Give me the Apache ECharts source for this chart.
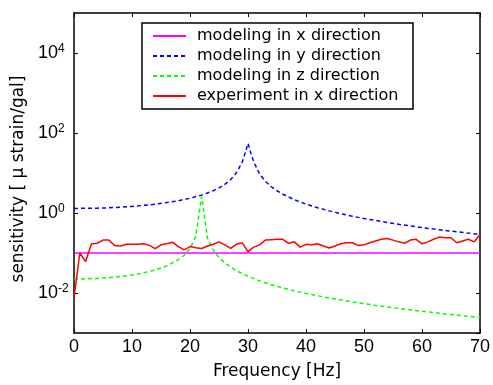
<!DOCTYPE html>
<html>
<head>
<meta charset="utf-8">
<script src="https://cdn.jsdelivr.net/npm/echarts@6/dist/echarts.min.js"></script>
<style>
  html, body { margin: 0; padding: 0; background: #fff; }
  #chart { width: 493px; height: 385px; }
</style>
</head>
<body>
<div id="chart"></div>
<script>
const FONT = "DejaVu Sans";
const TICK_FONT = "Liberation Sans";

// modeling in x direction (flat)
const xModelFreq = [0, 14, 70];
const xModelSens = [0.1, 0.1, 0.1];

// modeling in y direction
const yModelFreq = [0, 2, 4, 6, 8, 10, 12, 14, 16, 18, 20, 22, 24, 25, 26, 27, 28, 29, 29.5, 30, 30.5, 31, 32, 33, 34, 35, 36, 38, 40, 42, 44, 46, 48, 50, 52, 54, 56, 58, 60, 62, 64, 66, 68, 70];
const yModelSens = [1.30, 1.31, 1.32, 1.35, 1.40, 1.46, 1.55, 1.66, 1.82, 2.03, 2.34, 2.80, 3.6, 4.25, 5.2, 6.8, 10.1, 18.6, 31, 55, 31, 19, 9.4, 6.2, 4.57, 3.6, 2.95, 2.15, 1.67, 1.35, 1.13, 0.96, 0.83, 0.73, 0.65, 0.58, 0.52, 0.475, 0.433, 0.397, 0.366, 0.339, 0.314, 0.29];

// modeling in z direction
const zModelFreq = [0, 2, 4, 6, 8, 10, 12, 14, 16, 18, 19, 20, 21, 22, 23, 24, 25, 26, 28, 30, 32, 34, 36, 38, 40, 44, 48, 52, 56, 60, 64, 68, 70];
const zModelSens = [0.0224, 0.0226, 0.0232, 0.0242, 0.0258, 0.0282, 0.0319, 0.0376, 0.0476, 0.0677, 0.088, 0.13, 0.26, 2.6, 0.24, 0.118, 0.077, 0.0564, 0.0361, 0.0261, 0.0201, 0.0161, 0.0134, 0.0113, 0.0097, 0.0075, 0.006, 0.0049, 0.0041, 0.0035, 0.003, 0.0026, 0.00246];

// experiment in x direction, 1 Hz steps from 0 to 70
const expSens = [
  0.0074, 0.10, 0.061, 0.168, 0.175, 0.21, 0.21, 0.155, 0.15, 0.165,
  0.165, 0.165, 0.17, 0.155, 0.129, 0.16, 0.17, 0.185, 0.145, 0.12,
  0.145, 0.135, 0.13, 0.15, 0.165, 0.19, 0.16, 0.13, 0.165, 0.18,
  0.108, 0.14, 0.16, 0.21, 0.215, 0.22, 0.22, 0.175, 0.19, 0.14,
  0.165, 0.16, 0.17, 0.15, 0.133, 0.15, 0.17, 0.18, 0.18, 0.155,
  0.16, 0.18, 0.2, 0.22, 0.23, 0.21, 0.19, 0.175, 0.21, 0.22,
  0.17, 0.19, 0.22, 0.25, 0.24, 0.24, 0.18, 0.2, 0.22, 0.19,
  0.29
];

const seriesNames = [
  "modeling in x direction",
  "modeling in y direction",
  "modeling in z direction",
  "experiment in x direction",
];

// the y axis is a linear axis over log10 of the sensitivity (decades -3..5)
const pairs = (xs, ys) => xs.map((x, i) => [x, Math.log10(ys[i])]);

const chart = echarts.init(document.getElementById("chart"));

const lineSeries = (name, data, color, dashed) => ({
  name,
  type: "line",
  data,
  symbol: "none",
  showSymbol: false,
  animation: false,
  lineStyle: { color, width: 1.5, type: dashed ? [4, 3] : "solid" },
  itemStyle: { color },
});

const axisCommon = {
  axisLine: { show: true, onZero: false, lineStyle: { color: "#000", width: 1.5 } },
  axisTick: { show: true, inside: true, length: 4, lineStyle: { color: "#000", width: 1 } },
  splitLine: { show: false },
};

chart.setOption({
  animation: false,
  textStyle: { fontFamily: FONT },
  grid: { left: 74, right: 12, top: 13, bottom: 51 },
  legend: {
    orient: "vertical",
    left: 142,
    top: 23,
    padding: [3, 10, 3, 10],
    itemGap: 0,
    itemWidth: 33,
    itemHeight: 10,
    borderColor: "#000",
    borderWidth: 1.5,
    borderRadius: 0,
    backgroundColor: "#fff",
    itemStyle: { opacity: 0 },
    data: seriesNames,
    textStyle: { fontFamily: FONT, fontSize: 16, color: "#000", lineHeight: 20, width: 206, padding: [0, 0, 0, 6] },
  },
  xAxis: [
    Object.assign({}, axisCommon, {
      type: "value",
      min: 0,
      max: 70,
      interval: 10,
      name: "Frequency [Hz]",
      nameLocation: "middle",
      nameGap: 30,
      nameTextStyle: { fontFamily: FONT, fontSize: 17, color: "#000" },
      axisLabel: { fontFamily: TICK_FONT, fontSize: 18, color: "#000", margin: 5 },
    }),
    Object.assign({}, axisCommon, {
      type: "value",
      position: "top",
      min: 0,
      max: 70,
      interval: 10,
      axisLabel: { show: false },
    }),
  ],
  yAxis: [
    Object.assign({}, axisCommon, {
      type: "value",
      min: -3,
      max: 5,
      splitNumber: 4,
      name: "sensitivity [ μ strain/gal]",
      nameLocation: "middle",
      nameGap: 41,
      nameTextStyle: { fontFamily: FONT, fontSize: 17, color: "#000", padding: [0, 12, 0, 0] },
      axisLabel: {
        showMinLabel: false,
        showMaxLabel: false,
        align: "left",
        margin: 36,
        formatter: (v) => "{b|10}{s|" + Math.round(v) + "}",
        rich: {
          b: { fontFamily: TICK_FONT, fontSize: 18, color: "#000", lineHeight: 20 },
          s: { fontFamily: TICK_FONT, fontSize: 12, color: "#000", lineHeight: 12, verticalAlign: "top" },
        },
      },
    }),
    Object.assign({}, axisCommon, {
      type: "value",
      position: "right",
      min: -3,
      max: 5,
      splitNumber: 4,
      axisLabel: { show: false },
    }),
  ],
  series: [
    lineSeries(seriesNames[0], pairs(xModelFreq, xModelSens), "#ff00ff", false),
    lineSeries(seriesNames[1], pairs(yModelFreq, yModelSens), "#0000ff", true),
    lineSeries(seriesNames[2], pairs(zModelFreq, zModelSens), "#00ff00", true),
    lineSeries(seriesNames[3], expSens.map((v, i) => [i, Math.log10(v)]), "#ff0000", false),
  ],
});
</script>
</body>
</html>
